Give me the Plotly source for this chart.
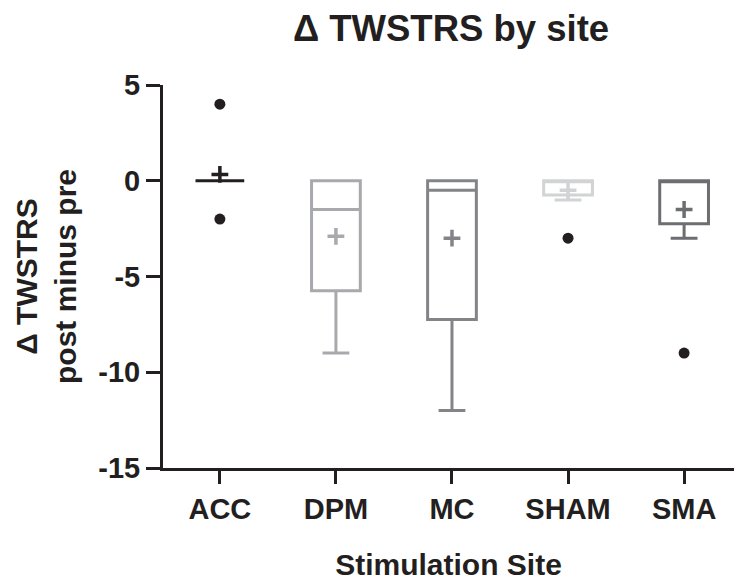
import plotly.graph_objects as go

sites = ["ACC", "DPM", "MC", "SHAM", "SMA"]
q1 = [0, -5.75, -7.25, -0.75, -2.25]
median = [0, -1.5, -0.5, 0, 0]
q3 = [0, 0, 0, 0, 0]
lower_whisker = [0, -9, -12, -1, -3]
upper_whisker = [0, 0, 0, 0, 0]
means = [0.33, -2.9, -3.0, -0.5, -1.5]
outlier_sites = ["ACC", "ACC", "SHAM", "SMA"]
outlier_values = [4, -2, -3, -9]
y_ticks = [5, 0, -5, -10, -15]
y_tick_labels = ["5", "0", "-5", "-10", "-15"]
colors = ["#231f20", "#a7a9ac", "#838488", "#d1d3d4", "#6d6e71"]

ink = "#231f20"
font = "Liberation Sans, Arial, Helvetica, sans-serif"

fig = go.Figure()
for i, s in enumerate(sites):
    fig.add_trace(go.Box(
        x=[s], q1=[q1[i]], median=[median[i]], q3=[q3[i]],
        lowerfence=[lower_whisker[i]], upperfence=[upper_whisker[i]],
        width=0.42, whiskerwidth=0.55,
        line=dict(color=colors[i], width=3),
        fillcolor="rgba(0,0,0,0)", boxpoints=False,
        showlegend=False, hoverinfo="skip",
    ))

fig.add_trace(go.Scatter(
    x=sites, y=means, mode="markers",
    marker=dict(symbol="cross-thin", size=12, color=colors,
                line=dict(color=colors, width=3.5)),
    showlegend=False,
))
fig.add_trace(go.Scatter(
    x=outlier_sites, y=outlier_values, mode="markers",
    marker=dict(symbol="circle", size=11, color=ink),
    showlegend=False,
))

fig.update_layout(
    width=734, height=581,
    margin=dict(l=163, r=0, t=85, b=113),
    paper_bgcolor="white", plot_bgcolor="white",
    font=dict(family=font, color=ink),
    title=dict(text="<b>Δ TWSTRS by site</b>", x=451 / 734, xanchor="center",
               y=1 - 28 / 581, yanchor="middle",
               font=dict(size=36.5, family=font, color=ink)),
    xaxis=dict(
        type="category", categoryorder="array", categoryarray=sites,
        range=[-0.49, 4.43],
        showline=True, linewidth=3, linecolor=ink,
        ticks="outside", ticklen=13, tickwidth=3, tickcolor=ink,
        tickfont=dict(size=29, family=font, color=ink),
        tickprefix="<b>", ticksuffix="</b>",
        showgrid=False, zeroline=False,
        title=dict(text="<b>Stimulation Site</b>", standoff=32,
                   font=dict(size=30, family=font, color=ink)),
    ),
    yaxis=dict(
        range=[-15, 5], tickmode="array", tickvals=y_ticks,
        ticktext=["<b>" + t + "</b>" for t in y_tick_labels],
        showline=True, linewidth=3, linecolor=ink,
        ticks="outside", ticklen=14, tickwidth=3, tickcolor=ink,
        tickfont=dict(size=29, family=font, color=ink),
        showgrid=False, zeroline=False,
        title=dict(text="<b>Δ TWSTRS<br>post minus pre</b>", standoff=13,
                   font=dict(size=30, family=font, color=ink)),
    ),
)

fig.write_html("out.html")
